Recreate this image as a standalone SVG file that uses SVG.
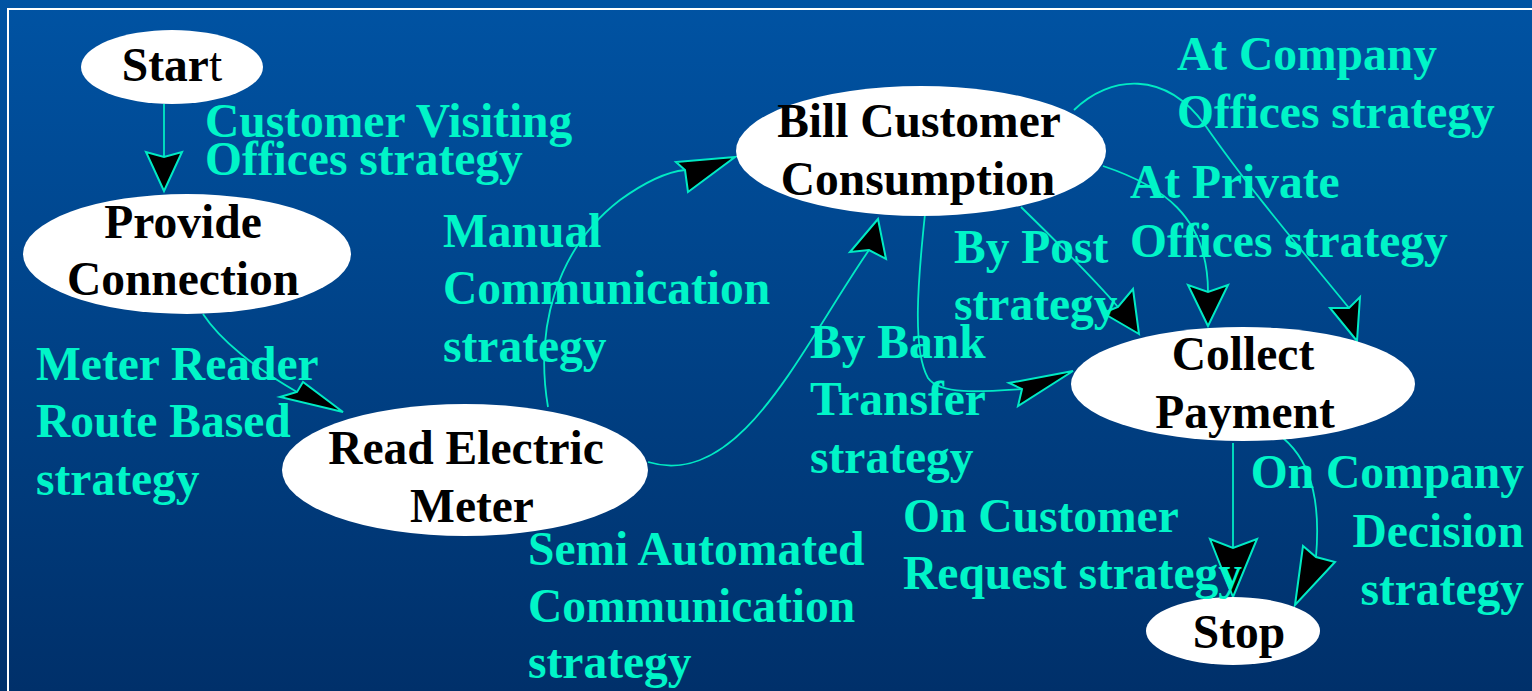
<svg xmlns="http://www.w3.org/2000/svg" width="1532" height="691" viewBox="0 0 1532 691">
<defs>
<linearGradient id="bg" x1="0" y1="0" x2="0" y2="1">
<stop offset="0" stop-color="#0053a3"/>
<stop offset="1" stop-color="#00306a"/>
</linearGradient>
<style>
.edge{fill:none;stroke:#00eac4;stroke-width:1.8}
.ah{fill:#000;stroke:#00eac4;stroke-width:2;stroke-linejoin:miter}
.node{fill:#fff}
.nt{font-family:"Liberation Serif","Times New Roman",serif;font-weight:bold;font-size:47.5px;fill:#000;text-anchor:middle}
.lb{font-family:"Liberation Serif","Times New Roman",serif;font-weight:bold;font-size:47.5px;fill:#00f5c8}
.rt{text-anchor:end}
</style>
</defs>
<rect x="0" y="0" width="1532" height="691" fill="url(#bg)"/>
<rect x="8" y="9" width="1600" height="800" fill="none" stroke="#fff" stroke-width="2"/>

<g id="connectors">
<path class="edge" d="M164,104 L164,157"/>
<path class="edge" d="M203,314 C220,340 255,368 297,392"/>
<path class="edge" d="M548,407 C535,330 555,250 620,200 C645,182 665,172 685,170"/>
<path class="edge" d="M648,462 C740,490 800,350 869,250"/>
<path class="edge" d="M925,214 C918,280 912,350 928,378 C940,395 980,392 1022,389"/>
<path class="edge" d="M1021,207 C1060,245 1095,280 1118,307"/>
<path class="edge" d="M1103,166 C1160,185 1208,215 1208,292"/>
<path class="edge" d="M1074,110 C1110,75 1165,70 1205,125 C1250,190 1310,260 1349,308"/>
<path class="edge" d="M1233,443 L1233,548"/>
<path class="edge" d="M1283,438 C1315,465 1320,510 1316,557"/>
<polygon class="ah" points="164,191 146,152 164,157 182,152"/>
<polygon class="ah" points="343,412 280,397 297,392 303,382"/>
<polygon class="ah" points="735,157 676,162 685,170 688,192"/>
<polygon class="ah" points="878,219 850,252 869,250 886,259"/>
<polygon class="ah" points="1073,371 1009,383 1022,389 1018,406"/>
<polygon class="ah" points="1139,334 1103,313 1118,307 1133,289"/>
<polygon class="ah" points="1208,326 1188,285 1208,292 1228,285"/>
<polygon class="ah" points="1357,341 1330,308 1349,308 1360,297"/>
<polygon class="ah" points="1233,597 1210,539 1233,548 1257,539"/>
<polygon class="ah" points="1295,605 1303,546 1316,557 1335,562"/>
</g>

<g id="start">
<ellipse class="node" cx="172" cy="67" rx="91" ry="37"/>
<text class="nt" x="172" y="81">Star<tspan font-weight="normal">t</tspan></text>
</g>
<g id="provide-connection">
<ellipse class="node" cx="187" cy="254" rx="164" ry="60"/>
<text class="nt" x="183" y="238">Provide</text>
<text class="nt" x="183" y="295">Connection</text>
</g>
<g id="read-electric-meter">
<ellipse class="node" cx="465" cy="470" rx="183" ry="66"/>
<text class="nt" x="466" y="464">Read Electric</text>
<text class="nt" x="472" y="522">Meter</text>
</g>
<g id="bill-customer-consumption">
<ellipse class="node" cx="921" cy="151" rx="185" ry="65"/>
<text class="nt" x="919" y="137">Bill Customer</text>
<text class="nt" x="918" y="195">Consumption</text>
</g>
<g id="collect-payment">
<ellipse class="node" cx="1243" cy="384" rx="172" ry="57"/>
<text class="nt" x="1243" y="370">Collect</text>
<text class="nt" x="1245" y="428">Payment</text>
</g>
<g id="stop">
<ellipse class="node" cx="1233" cy="631" rx="87" ry="34"/>
<text class="nt" x="1239" y="648">Stop</text>
</g>

<g id="labels">
<text class="lb" x="205" y="137">Customer Visiting</text>
<text class="lb" x="205" y="175">Offices strategy</text>
<text class="lb" x="443" y="247">Manual</text>
<text class="lb" x="443" y="304">Communication</text>
<text class="lb" x="443" y="362">strategy</text>
<text class="lb" x="36" y="380">Meter Reader</text>
<text class="lb" x="36" y="437">Route Based</text>
<text class="lb" x="36" y="495">strategy</text>
<text class="lb" x="528" y="565">Semi Automated</text>
<text class="lb" x="528" y="622">Communication</text>
<text class="lb" x="528" y="678">strategy</text>
<text class="lb" x="810" y="358">By Bank</text>
<text class="lb" x="810" y="415">Transfer</text>
<text class="lb" x="810" y="473">strategy</text>
<text class="lb" x="954" y="263">By Post</text>
<text class="lb" x="954" y="320">strategy</text>
<text class="lb" x="1177" y="70">At Company</text>
<text class="lb" x="1177" y="128">Offices strategy</text>
<text class="lb" x="1130" y="198">At Private</text>
<text class="lb" x="1130" y="257">Offices strategy</text>
<text class="lb" x="903" y="532">On Customer</text>
<text class="lb" x="903" y="589">Request strategy</text>
<text class="lb rt" x="1524" y="488">On Company</text>
<text class="lb rt" x="1524" y="547">Decision</text>
<text class="lb rt" x="1524" y="605">strategy</text>
</g>
</svg>
